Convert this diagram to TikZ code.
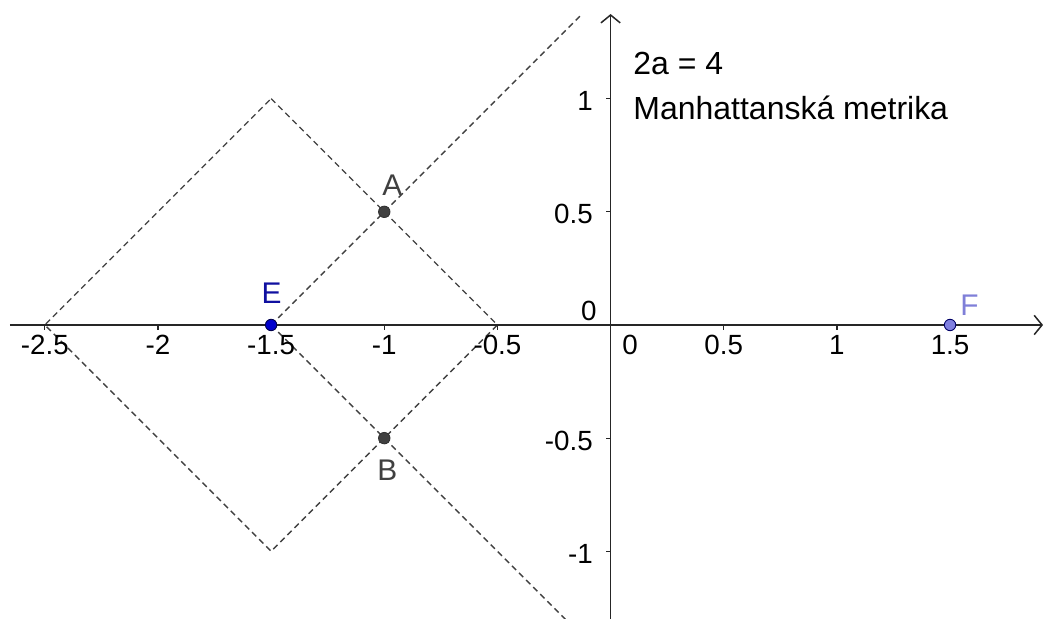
\documentclass[tikz,border=0pt]{standalone}
\usepackage{fontspec}
\setmainfont{Liberation Sans}
\usetikzlibrary{arrows.meta}
\definecolor{dgray}{HTML}{404040}
\definecolor{eblue}{HTML}{0000CC}
\definecolor{elab}{HTML}{1010A0}
\definecolor{ffill}{HTML}{8080E0}
\definecolor{flab}{HTML}{7F7FD8}
\tikzset{
  axis/.style={line width=0.85pt, black!85, -{Straight Barb[length=4.5pt,width=11pt,line width=0.85pt]}},
  tickline/.style={line width=0.7pt, black!85},
  dashline/.style={line width=0.75pt, dgray, dash pattern=on 3.4pt off 2.3pt},
  xlab/.style={anchor=base, inner sep=0pt, font=\fontsize{15.8}{18}\selectfont},
  ylab/.style={anchor=base east, inner sep=0pt, font=\fontsize{15.8}{18}\selectfont},
  ptlab/.style={anchor=base west, inner sep=0pt, font=\fontsize{17}{20}\selectfont},
  txt/.style={anchor=base west, inner sep=0pt, font=\fontsize{18.2}{21}\selectfont},
  pt/.style={circle, inner sep=0pt, minimum size=6.5pt, line width=0.5pt}
}
\begin{document}
\begin{tikzpicture}[x=4.526cm,y=4.526cm]
\useasboundingbox (-2.698,-1.299) rectangle (1.924,1.436);
% axis end points
\coordinate (xl) at (-2.654,0);
\coordinate (xr) at (1.911,0);
\coordinate (yb) at (0,-1.299);
\coordinate (yt) at (0,1.374);
% dashed figure
\coordinate (D1) at (-1.5,1);
\coordinate (D2) at (-0.5,0);
\coordinate (D3) at (-1.5,-1);
\coordinate (D4) at (-2.5,0);
\coordinate (Pe) at (-1.5,0);
\coordinate (Lu) at (-0.125,1.375);
\coordinate (Ld) at (-0.2,-1.3);
\draw[dashline] (D1) -- (D2) -- (D3) -- (D4) -- cycle;
\draw[dashline] (Pe) -- (Lu);
\draw[dashline] (Pe) -- (Ld);
% axes
\draw[axis] (xl) -- (xr);
\draw[axis] (yb) -- (yt);
% ticks
\foreach \x in {-2.5,-2,-1.5,-1,-0.5,0.5,1,1.5}
  \draw[tickline] (\x,0) -- (\x,-0.02);
\foreach \y in {-1,-0.5,0.5,1}
  \draw[tickline] (0,\y) -- (-0.02,\y);
% x labels
\node[xlab] (xa) at (-2.5,-0.1326) {-2.5};
\node[xlab] (xb) at (-2,-0.1326) {-2};
\node[xlab] (xc) at (-1.5,-0.1326) {-1.5};
\node[xlab] (xd) at (-1,-0.1326) {-1};
\node[xlab] (xe) at (-0.5,-0.1326) {-0.5};
\node[xlab] (xf) at (0.5,-0.1326) {0.5};
\node[xlab] (xg) at (1,-0.1326) {1};
\node[xlab] (xh) at (1.5,-0.1326) {1.5};
\node[anchor=base west, inner sep=0pt, font=\fontsize{15.8}{18}\selectfont] (x0) at (0.051,-0.1326) {0};
% y labels
\node[ylab] (ya) at (-0.077,1-0.053) {1};
\node[ylab] (yb5) at (-0.077,0.5-0.053) {0.5};
\node[ylab] (yc) at (-0.077,-0.5-0.053) {-0.5};
\node[ylab] (yd) at (-0.077,-1-0.053) {-1};
\node[ylab] (y0) at (-0.06,0.022) {0};
% points
\node[pt, fill=dgray, draw=black!80] (A) at (-1,0.5) {};
\node[pt, fill=dgray, draw=black!80] (B) at (-1,-0.5) {};
\node[pt, fill=eblue, draw=black!70!blue] (E) at (-1.5,0) {};
\node[pt, fill=ffill, draw=black!60!blue] (F) at (1.5,0) {};
\node[ptlab, text=dgray] (Al) at (-1.0097,0.570) {A};
\node[ptlab, text=dgray] (Bl) at (-1.032,-0.685) {B};
\node[ptlab, text=elab] (El) at (-1.544,0.097) {E};
\node[ptlab, text=flab] (Fl) at (1.544,0.044) {F};
% texts
\node[txt] (t1) at (0.0994,1.105) {2a = 4};
\node[txt] (t2) at (0.0994,0.906) {Manhattanská metrika};
\end{tikzpicture}
\end{document}
